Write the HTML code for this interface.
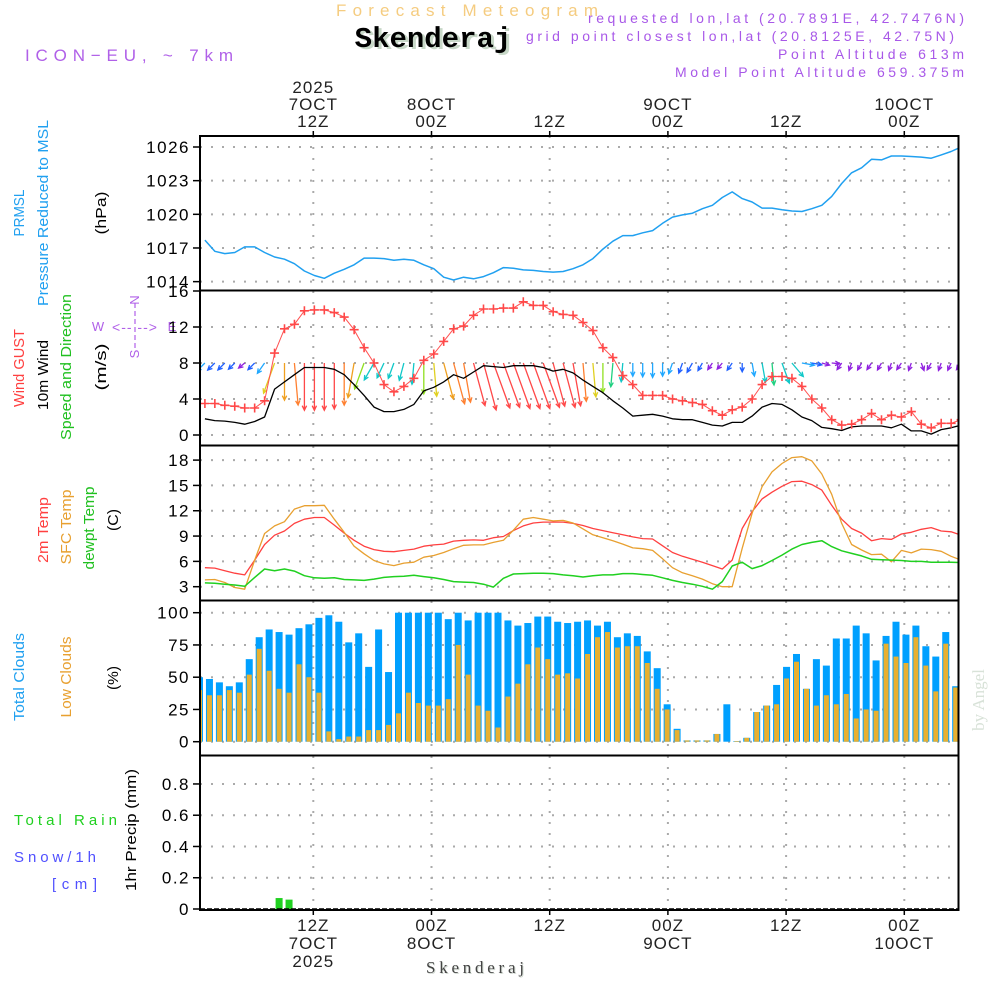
<!DOCTYPE html>
<html><head><meta charset="utf-8"><style>
html,body{margin:0;padding:0;background:#fff;}
svg{display:block;font-family:"Liberation Sans","DejaVu Sans",sans-serif;}
</style></head><body>
<svg id="chart" width="1000" height="1000" viewBox="0 0 1000 1000" xmlns="http://www.w3.org/2000/svg">
<defs>
<clipPath id="cpP"><rect x="200" y="136" width="759" height="154"/></clipPath>
<clipPath id="cpW"><rect x="200" y="291" width="759" height="154"/></clipPath>
<clipPath id="cpT"><rect x="200" y="446" width="759" height="154"/></clipPath>
<clipPath id="cpC"><rect x="200" y="601" width="759" height="154"/></clipPath>
<clipPath id="cpR"><rect x="200" y="756" width="759" height="154"/></clipPath>
</defs>
<text x="467" y="16" text-anchor="middle" font-size="17" fill="#f5cc80" textLength="262" lengthAdjust="spacing">Forecast Meteogram</text>
<text x="436" y="49" text-anchor="middle" font-family="Liberation Mono,monospace" font-weight="bold" font-size="29" fill="#c8d8c8">Skenderaj</text>
<text x="433" y="47" text-anchor="middle" font-family="Liberation Mono,monospace" font-weight="bold" font-size="29" fill="#000">Skenderaj</text>
<text x="25" y="61" font-size="17" fill="#b060e8" textLength="208" lengthAdjust="spacing">ICON−EU, ~ 7km</text>
<g fill="#a858e8" font-size="14" text-anchor="end">
<text x="964" y="23" textLength="376" lengthAdjust="spacing">requested lon,lat (20.7891E, 42.7476N)</text>
<text x="954" y="41" textLength="428" lengthAdjust="spacing">grid point closest lon,lat (20.8125E, 42.75N)</text>
<text x="964" y="59" textLength="186" lengthAdjust="spacing">Point Altitude 613m</text>
<text x="964" y="77" textLength="289" lengthAdjust="spacing">Model Point Altitude 659.375m</text>
</g>
<g font-size="15">
<text transform="translate(24,213) rotate(-90)" text-anchor="middle" fill="#20a0f0" textLength="47" lengthAdjust="spacingAndGlyphs">PRMSL</text>
<text transform="translate(48,213) rotate(-90)" text-anchor="middle" fill="#20a0f0" textLength="186" lengthAdjust="spacingAndGlyphs">Pressure Reduced to MSL</text>
<text transform="translate(106,213) rotate(-90)" text-anchor="middle" fill="#000" textLength="43" lengthAdjust="spacingAndGlyphs">(hPa)</text>
</g>
<g font-size="15">
<text transform="translate(24,368) rotate(-90)" text-anchor="middle" fill="#ff4040" textLength="78" lengthAdjust="spacingAndGlyphs">Wind GUST</text>
<text transform="translate(48,375) rotate(-90)" text-anchor="middle" fill="#000" textLength="70" lengthAdjust="spacingAndGlyphs">10m Wind</text>
<text transform="translate(71,367) rotate(-90)" text-anchor="middle" fill="#20c020" textLength="146" lengthAdjust="spacingAndGlyphs">Speed and Direction</text>
<text transform="translate(106,367) rotate(-90)" text-anchor="middle" fill="#000" textLength="47" lengthAdjust="spacingAndGlyphs">(m/s)</text>
</g>
<g fill="#b060e8" font-size="13" text-anchor="middle">
<text x="98" y="331">W</text><text x="172" y="331">E</text>
<text transform="translate(139,300) rotate(-90)">N</text><text transform="translate(139,354) rotate(-90)">S</text>
<text x="135" y="332" font-size="14" letter-spacing="1">&lt;-- --&gt;</text>
<line x1="135" y1="303" x2="135" y2="350" stroke="#b060e8" stroke-width="1.2" stroke-dasharray="5 3"/>
</g>
<g font-size="15">
<text transform="translate(48,530) rotate(-90)" text-anchor="middle" fill="#ff4040" textLength="66" lengthAdjust="spacingAndGlyphs">2m Temp</text>
<text transform="translate(71,527) rotate(-90)" text-anchor="middle" fill="#e8a030" textLength="75" lengthAdjust="spacingAndGlyphs">SFC Temp</text>
<text transform="translate(94,528) rotate(-90)" text-anchor="middle" fill="#20c020" textLength="83" lengthAdjust="spacingAndGlyphs">dewpt Temp</text>
<text transform="translate(118,520) rotate(-90)" text-anchor="middle" fill="#000" textLength="22" lengthAdjust="spacingAndGlyphs">(C)</text>
</g>
<g font-size="15">
<text transform="translate(24,677) rotate(-90)" text-anchor="middle" fill="#20a0f0" textLength="88" lengthAdjust="spacingAndGlyphs">Total Clouds</text>
<text transform="translate(71,677) rotate(-90)" text-anchor="middle" fill="#e8a030" textLength="81" lengthAdjust="spacingAndGlyphs">Low Clouds</text>
<text transform="translate(118,678) rotate(-90)" text-anchor="middle" fill="#000" textLength="24" lengthAdjust="spacingAndGlyphs">(%)</text>
</g>
<g font-size="15">
<text x="14" y="825" fill="#20d020" textLength="103" lengthAdjust="spacing">Total  Rain</text>
<text x="14" y="862" fill="#5050ff" textLength="82" lengthAdjust="spacing">Snow/1h</text>
<text x="52" y="889" fill="#5050ff" textLength="45" lengthAdjust="spacing">[cm]</text>
<text transform="translate(136,830) rotate(-90)" text-anchor="middle" fill="#000" textLength="122" lengthAdjust="spacingAndGlyphs">1hr Precip (mm)</text>
</g>
<text transform="translate(984,700) rotate(-90)" text-anchor="middle" font-family="Liberation Serif,serif" font-size="17" fill="#d8e2d8">by Angel</text>
<text x="476" y="974" text-anchor="middle" font-family="Liberation Serif,serif" font-size="17" fill="#d0d8d0" textLength="98" lengthAdjust="spacing">Skenderaj</text>
<text x="475" y="973" text-anchor="middle" font-family="Liberation Serif,serif" font-size="17" fill="#444" textLength="98" lengthAdjust="spacing">Skenderaj</text>
<g id="grid"></g>
<g id="marks"></g>
<g id="axes"></g>
</svg>
<script>
const pressure = [1017.7,1016.7,1016.5,1016.6,1017.1,1017.1,1016.6,1016.2,1016.0,1015.6,
1014.95,1014.55,1014.3,1014.75,1015.1,1015.5,1016.1,1016.1,1016.05,1015.9,
1016.0,1015.9,1015.5,1015.15,1014.4,1014.15,1014.4,1014.25,1014.45,1014.8,
1015.25,1015.2,1015.05,1015.0,1014.9,1014.85,1014.9,1015.15,1015.5,1016.05,
1016.9,1017.6,1018.1,1018.1,1018.35,1018.55,1019.2,1019.75,1019.95,1020.1,
1020.5,1020.8,1021.5,1022.0,1021.4,1021.1,1020.55,1020.55,1020.4,1020.3,
1020.25,1020.5,1020.8,1021.6,1022.75,1023.7,1024.15,1024.9,1024.85,1025.2,
1025.2,1025.15,1025.1,1025.0,1025.3,1025.6,1026.0];
const windGust = [3.5,3.5,3.3,3.2,3.0,3.0,3.8,9.1,11.8,12.3,
13.8,13.9,13.9,13.6,13.1,11.7,9.7,8.0,5.6,4.8,
5.4,6.3,8.3,9.0,10.4,11.8,12.1,13.3,14.0,14.0,
14.1,14.1,14.8,14.4,14.4,13.7,13.4,13.3,12.5,11.6,
9.7,8.6,6.6,5.6,4.4,4.4,4.4,4.0,3.8,3.6,
3.4,2.7,2.2,2.8,3.1,4.0,5.6,6.5,6.5,6.3,
5.4,4.0,3.0,1.7,1.1,1.2,1.7,2.4,1.7,2.2,
2.0,2.6,1.2,0.8,1.3,1.3,1.7];
const wind10m = [1.8,1.6,1.55,1.4,1.2,1.5,2.0,5.1,5.9,6.7,
7.5,7.5,7.5,7.3,6.7,5.6,4.4,3.1,2.6,2.6,
2.85,3.4,4.9,5.3,5.9,6.7,6.3,7.0,7.7,7.6,
7.5,7.7,7.7,7.7,7.5,7.1,7.3,6.9,6.1,5.4,
4.7,3.8,3.0,2.1,2.2,2.3,2.1,1.8,1.7,1.7,
1.4,1.1,1.0,1.4,1.4,2.1,3.1,3.5,3.4,2.8,
2.0,1.6,0.85,0.7,0.5,0.9,1.0,1.0,1.0,0.8,
1.2,0.45,0.45,0.1,0.6,0.8,1.1];
const windToDir = [225,225,225,225,230,225,215,200,180,175,
180,180,180,180,180,190,200,210,205,200,
195,185,180,175,165,165,170,165,165,160,
160,160,160,160,160,165,165,170,175,175,
180,185,185,180,180,180,180,200,200,210,
210,215,220,215,180,170,170,175,160,140,
100,100,105,95,215,200,210,215,210,200,
215,200,160,210,200,205,215];
const temp2m = [5.25,5.2,4.9,4.6,4.4,6.15,8.0,9.1,9.6,10.5,
11.0,11.2,11.2,10.3,9.35,8.5,7.8,7.4,7.2,7.15,
7.3,7.45,7.8,7.95,8.05,8.4,8.5,8.55,8.5,8.8,
8.95,9.65,10.2,10.55,10.65,10.65,10.65,10.5,10.25,9.9,
9.65,9.4,9.15,8.9,8.7,8.65,7.85,7.05,6.6,6.25,
5.9,5.5,5.1,6.15,9.9,11.9,13.4,14.2,14.9,15.45,
15.5,15.1,14.45,12.65,11.0,9.9,9.35,8.45,8.7,8.6,
9.25,9.45,9.8,10.0,9.6,9.5,9.1];
const tempSfc = [3.8,3.85,3.5,2.9,2.7,6.15,9.3,10.2,10.7,12.2,
12.6,12.6,12.65,11.0,9.45,7.8,6.9,6.1,5.7,5.5,
5.8,5.9,6.5,6.7,7.05,7.5,7.9,7.95,7.95,8.25,
8.5,9.7,11.0,11.2,11.0,10.8,10.85,10.55,9.85,9.15,
8.8,8.45,8.05,7.6,7.5,7.3,6.3,5.25,4.65,4.3,
3.9,3.35,3.0,3.0,7.55,11.7,14.85,16.6,17.6,18.3,
18.4,17.9,16.35,13.95,10.5,8.0,7.35,6.8,6.85,5.95,
7.3,7.0,7.45,7.4,7.2,6.6,6.15];
const dewpt = [3.45,3.4,3.3,3.2,3.05,4.1,5.1,4.9,5.1,4.85,
4.3,4.05,4.0,4.05,3.85,3.8,3.75,3.9,4.1,4.2,
4.25,4.35,4.2,4.05,3.85,3.6,3.55,3.5,3.3,2.95,
4.0,4.5,4.55,4.6,4.6,4.55,4.4,4.3,4.15,4.3,
4.4,4.4,4.55,4.55,4.45,4.35,4.05,3.75,3.5,3.3,
3.05,2.7,3.6,5.45,5.9,5.15,5.5,6.1,6.75,7.45,
8.0,8.25,8.45,7.75,7.25,6.95,6.65,6.25,6.2,6.15,
6.1,6.0,6.0,5.9,5.9,5.9,5.85];
const totalClouds = [50,48.6,46,43,46,64,81,87,85,83,
88,91,96,98,93,77,84,58,87,54,
100,100,100,100,100,95,100,94,100,100,
100,94,90,92,97,97,93,92,93,94,
90,93,81,84,82,70,57,29,10,1,
1,1,6,29,0.5,3,23,28,44,58,
68,41,64,59,80,80,90,84,63,82,
93,83,90,74,66,85,43];
const lowClouds = [40,36,36,40,38,52,72,55,41,38,
60,50,38,8,2,4,4,9,9,13,
22,38,30,28,28,33,75,52,28,24,
11,35,45,60,73,64,52,53,49,68,
81,85,73,74,74,61,41,25,9,1,
1,1,6,0,0.5,3,23,28,29,49,
62,41,28,36,29,37,18,25,24,76,
66,61,81,59,39,76,42];
const rain = [0,0,0,0,0,0,0,0,0.07,0.06,0,0,0,0,0,0,0,0,0,0,
0,0,0,0,0,0,0,0,0,0,0,0,0,0,0,0,0,0,0,0,0,0,0,0,0,0,0,0,0,0,
0,0,0,0,0,0,0,0,0,0,0,0,0,0,0,0,0,0,0,0,0,0,0,0,0,0,0];
const timeTickHours = [12,24,36,48,60,72];
const topTimeLabels = [["2025","7OCT","12Z"],["8OCT","00Z"],["12Z"],["9OCT","00Z"],["12Z"],["10OCT","00Z"]];
const bottomTimeLabels = [["12Z","7OCT","2025"],["00Z","8OCT"],["12Z"],["00Z","9OCT"],["12Z"],["00Z","10OCT"]];
const pTicks = [1014,1017,1020,1023,1026];
const wTicks = [0,4,8,12,16];
const tTicks = [3,6,9,12,15,18];
const cTicks = [0,25,50,75,100];
const rTicks = [0,0.2,0.4,0.6,0.8];
const rTickLabels = ["0","0.2","0.4","0.6","0.8"];

const xLine = k => 204.9 + k*9.95;
const xBar = i => 199.5 + i*9.95;
const xTime = h => 313.3 + (h-12)*9.85;
const yP = v => 147 + (1026-v)*11.22;
const yW = v => 435 - v*9;
const yT = v => 586.7 - (v-3)*8.44;
const yC = v => 741.7 - v*1.29;
const yR = v => 909 - v*156.3;

const NS = "http://www.w3.org/2000/svg";
function mk(tag, attrs, parent){const e=document.createElementNS(NS,tag);for(const a in attrs)e.setAttribute(a,attrs[a]);parent.appendChild(e);return e;}
const grid=document.getElementById('grid'), marks=document.getElementById('marks'), axes=document.getElementById('axes');
const panels=[{top:136,bot:290,ticks:pTicks,y:yP,lab:pTicks.map(String),clip:'cpP',n:'pressure'},
{top:291,bot:445,ticks:wTicks,y:yW,lab:wTicks.map(String),clip:'cpW',n:'wind'},
{top:446,bot:600,ticks:tTicks,y:yT,lab:tTicks.map(String),clip:'cpT',n:'temp'},
{top:601,bot:755,ticks:cTicks,y:yC,lab:cTicks.map(String),clip:'cpC',n:'cloud'},
{top:756,bot:910,ticks:rTicks,y:yR,lab:rTickLabels,clip:'cpR',n:'precip'}];
panels.forEach(p=>{
  p.ticks.forEach((t,j)=>{
    const y=p.y(t);
    if(y>p.top+3 && y<p.bot-1){
      const g=mk('line',{x1:200,x2:958,y1:y,y2:y,stroke:'#aaa','stroke-width':2,'stroke-dasharray':'2 9'},grid);
      
      
    }
    const tk=mk('line',{x1:193,x2:200,y1:y,y2:y,stroke:'#000','stroke-width':1.5},axes);
    
    
    const tl=mk('text',{x:190,y:y+6,'text-anchor':'end','font-size':17,'letter-spacing':1.5,fill:'#000'},axes);
    tl.textContent=p.lab[j];
    
    
  });
  timeTickHours.forEach(h=>{
    const x=xTime(h);
    const g=mk('line',{x1:x,x2:x,y1:p.top,y2:p.bot,stroke:'#aaa','stroke-width':2,'stroke-dasharray':'2 9'},grid);
    
    
  });
});
const fr=mk('rect',{x:200,y:136,width:758.5,height:774,fill:'none',stroke:'#000','stroke-width':2},axes);


[290.5,445.5,600.5,755.5].forEach(y=>{
  const s=mk('line',{x1:200,x2:958.5,y1:y,y2:y,stroke:'#000','stroke-width':2},axes);
  
  
});
const zl=mk('line',{x1:200,x2:958,y1:909,y2:909,stroke:'#000','stroke-width':1.5,'stroke-dasharray':'5 2'},axes);


timeTickHours.forEach((h,j)=>{
  const x=xTime(h);
  const t1=mk('line',{x1:x,x2:x,y1:131,y2:136,stroke:'#000','stroke-width':1.5},axes);
  
  
  const t2=mk('line',{x1:x,x2:x,y1:910,y2:915,stroke:'#000','stroke-width':1.5},axes);
  
  
  const top=topTimeLabels[j];
  top.forEach((s,m)=>{
    const e=mk('text',{x:x,y:127-(top.length-1-m)*17,'text-anchor':'middle','font-size':17,'letter-spacing':1,fill:'#222'},axes);
    e.textContent=s;
    
    
  });
  bottomTimeLabels[j].forEach((s,m)=>{
    const e=mk('text',{x:x,y:931+m*18,'text-anchor':'middle','font-size':17,'letter-spacing':1,fill:'#222'},axes);
    e.textContent=s;
    
    
  });
});
function polyline(arr, xf, yf, color, w, clip, name){
  const pts=arr.map((v,k)=>xf(k).toFixed(1)+','+yf(v).toFixed(1)).join(' ');
  const e=mk('polyline',{points:pts,fill:'none',stroke:color,'stroke-width':w,'clip-path':'url(#'+clip+')','stroke-linejoin':'round'},marks);
  
  
}
const cg=mk('g',{'clip-path':'url(#cpC)'},marks);


totalClouds.forEach((v,i)=>{
  const x=xBar(i);
  const b=mk('rect',{x:x-3.5,y:yC(v),width:7,height:yC(0)-yC(v),fill:'#00a0ff'},cg);
  
  
  const l=lowClouds[i];
  const b2=mk('rect',{x:x-2.5,y:yC(l),width:5,height:yC(0)-yC(l),fill:'#e8b030'},cg);
  
  
});
const rg=mk('g',{'clip-path':'url(#cpR)'},marks);


rain.forEach((v,i)=>{
  if(v<=0) return;
  const b=mk('rect',{x:xBar(i)-3.5,y:yR(v),width:7,height:yR(0)-yR(v),fill:'#20d020'},rg);
  
  
});
polyline(pressure,xLine,yP,'#20a0f0',1.5,'cpP','pressure-line');
polyline(temp2m,xLine,yT,'#ff4040',1.3,'cpT','temp-2m-line');
polyline(tempSfc,xLine,yT,'#e8a030',1.3,'cpT','temp-sfc-line');
polyline(dewpt,xLine,yT,'#20d020',1.5,'cpT','dewpoint-line');
function arrowColor(s){
  if(s>=6.9) return '#ff4848';
  if(s>=6.0) return '#ff8030';
  if(s>=5.5) return '#f0a020';
  if(s>=5.0) return '#e0d020';
  if(s>=4.4) return '#90e020';
  if(s>=3.5) return '#20d080';
  if(s>=2.5) return '#10c8c8';
  if(s>=1.8) return '#20a8ff';
  if(s>=1.3) return '#2060ff';
  return '#9020e0';
}
const wg=mk('g',{'clip-path':'url(#cpW)'},marks);


wind10m.forEach((s,k)=>{
  const x0=xLine(k), y0=yW(8);
  const len=Math.max(8,s*6.3);
  const a=windToDir[k]*Math.PI/180;
  const dx=Math.sin(a), dy=-Math.cos(a);
  const x1=x0+dx*len, y1=y0+dy*len;
  const c=arrowColor(s);
  const hl=5, ang=0.45;
  const bx=-dx, by=-dy;
  const h1x=x1+hl*(bx*Math.cos(ang)-by*Math.sin(ang)), h1y=y1+hl*(bx*Math.sin(ang)+by*Math.cos(ang));
  const h2x=x1+hl*(bx*Math.cos(-ang)-by*Math.sin(-ang)), h2y=y1+hl*(bx*Math.sin(-ang)+by*Math.cos(-ang));
  const p=mk('path',{d:`M${x0.toFixed(1)},${y0.toFixed(1)}L${x1.toFixed(1)},${y1.toFixed(1)}M${h1x.toFixed(1)},${h1y.toFixed(1)}L${x1.toFixed(1)},${y1.toFixed(1)}L${h2x.toFixed(1)},${h2y.toFixed(1)}`,stroke:c,'stroke-width':1.3,fill:'none'},wg);
  
  
});
polyline(wind10m,xLine,yW,'#000',1.3,'cpW','wind-10m-line');
polyline(windGust,xLine,yW,'#ff5050',1,'cpW','wind-gust-line');
const gg=mk('g',{'clip-path':'url(#cpW)'},marks);


windGust.forEach((v,k)=>{
  const x=xLine(k), y=yW(v);
  const m=mk('path',{d:`M${x-4.5},${y}H${x+4.5}M${x},${y-4.5}V${y+4.5}`,stroke:'#ff4848','stroke-width':1.6},gg);
  
  
});
</script>
</body></html>
